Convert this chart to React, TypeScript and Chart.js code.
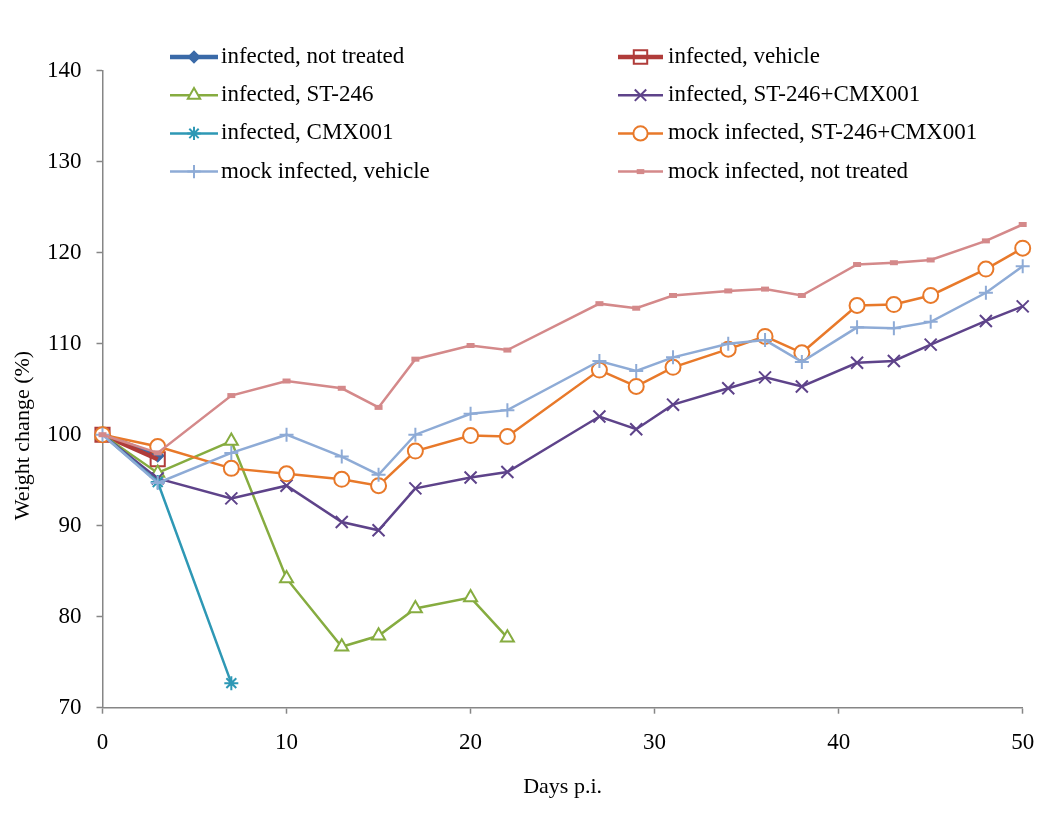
import React, { useEffect, useRef } from 'react';
import { Chart, registerables } from 'chart.js';
import { drawPoint } from 'chart.js/helpers';

Chart.register(...registerables);

// ---- data ----
const days = [0, 3, 7, 10, 13, 15, 17, 20, 22, 27, 29, 31, 34, 36, 38, 41, 43, 45, 48, 50];

const infectedNotTreated = [100, 97.7];
const infectedVehicle = [100, 97.3];
const infectedST246 = [100, 95.8, 99.3, 84.2, 76.7, 77.9, 80.9, 82.1, 77.7];
const infectedST246CMX001 = [100, 95.2, 93.0, 94.4, 90.4, 89.5, 94.1, 95.3, 95.9, 102.0, 100.6, 103.3, 105.1, 106.3, 105.3, 107.9, 108.1, 109.9, 112.5, 114.1];
const infectedCMX001 = [100, 94.8, 72.7];
const mockST246CMX001 = [100, 98.7, 96.3, 95.7, 95.1, 94.4, 98.2, 99.9, 99.8, 107.1, 105.3, 107.4, 109.4, 110.8, 109.0, 114.2, 114.3, 115.3, 118.2, 120.5];
const mockVehicle = [100, 94.7, 98.0, 100.0, 97.6, 95.6, 100.0, 102.3, 102.7, 108.1, 107.0, 108.5, 110.0, 110.4, 108.0, 111.8, 111.7, 112.4, 115.6, 118.5];
const mockNotTreated = [100, 98.0, 104.3, 105.9, 105.1, 103.0, 108.3, 109.8, 109.3, 114.4, 113.9, 115.3, 115.8, 116.0, 115.3, 118.7, 118.9, 119.2, 121.3, 123.1];

const seriesLabels = [
  'infected, not treated',
  'infected, vehicle',
  'infected, ST-246',
  'infected, ST-246+CMX001',
  'infected, CMX001',
  'mock infected, ST-246+CMX001',
  'mock infected, vehicle',
  'mock infected, not treated',
];
const seriesValues = [
  infectedNotTreated,
  infectedVehicle,
  infectedST246,
  infectedST246CMX001,
  infectedCMX001,
  mockST246CMX001,
  mockVehicle,
  mockNotTreated,
];

const xMin = 0;
const xMax = 50;
const xStep = 10;
const yMin = 70;
const yMax = 140;
const yStep = 10;
const xTitle = 'Days p.i.';
const yTitle = 'Weight change (%)';

// ---- styles ----
const FONT = "'Liberation Serif', 'Times New Roman', Times, serif";
const AXIS = '#868686';

const seriesStyles = [
  { color: '#3A6AA8', pointStyle: 'rectRot', radius: 6, fill: '#3A6AA8', lineWidth: 4.5, pbw: 1.5 },
  { color: '#B03C3A', pointStyle: 'rect', radius: 10, fill: 'rgba(255,255,255,0)', lineWidth: 4.5, pbw: 2 },
  { color: '#86AC40', pointStyle: 'triangle', radius: 7.5, fill: '#ffffff', lineWidth: 2.5, pbw: 2 },
  { color: '#5E438A', pointStyle: 'crossRot', radius: 8.5, fill: '#5E438A', lineWidth: 2.5, pbw: 2 },
  { color: '#2E98B5', pointStyle: 'star', radius: 7, fill: '#2E98B5', lineWidth: 2.5, pbw: 2 },
  { color: '#E8792A', pointStyle: 'circle', radius: 7.5, fill: '#ffffff', lineWidth: 2.5, pbw: 2 },
  { color: '#8EABD6', pointStyle: 'cross', radius: 7, fill: '#8EABD6', lineWidth: 2.5, pbw: 2 },
  { color: '#D4898A', pointStyle: 'line', radius: 4, fill: '#D4898A', lineWidth: 2.5, pbw: 5 },
];

const legendPlugin = {
  id: 'customLegend',
  afterDraw(chart: any) {
    const ctx = chart.ctx;
    ctx.save();
    chart.data.datasets.forEach((ds: any, i: number) => {
      const col = i % 2;
      const row = Math.floor(i / 2);
      const x0 = col === 0 ? 170 : 618;
      const x1 = col === 0 ? 218 : 663;
      const tx = col === 0 ? 221 : 668;
      const y = 57 + row * 38.2;
      ctx.lineCap = 'butt';
      ctx.strokeStyle = ds.borderColor;
      ctx.lineWidth = ds.borderWidth;
      ctx.beginPath();
      ctx.moveTo(x0, y);
      ctx.lineTo(x1, y);
      ctx.stroke();
      ctx.fillStyle = ds.pointBackgroundColor;
      ctx.strokeStyle = ds.pointBorderColor;
      ctx.lineWidth = ds.pointBorderWidth;
      drawPoint(
        ctx,
        { pointStyle: ds.pointStyle, radius: ds.pointRadius * 0.95, borderWidth: ds.pointBorderWidth, rotation: 0 } as any,
        (x0 + x1) / 2,
        y
      );
      ctx.fillStyle = '#000';
      ctx.font = `23px ${FONT}`;
      ctx.textBaseline = 'middle';
      ctx.textAlign = 'left';
      ctx.fillText(ds.label, tx, y);
    });
    ctx.restore();

    ctx.save();
    ctx.translate(23, 435.5);
    ctx.rotate(-Math.PI / 2);
    ctx.font = `22px ${FONT}`;
    ctx.fillStyle = '#000';
    ctx.textAlign = 'center';
    ctx.textBaseline = 'middle';
    ctx.fillText(yTitle, 0, 0);
    ctx.restore();
  },
};

export default function App() {
  const canvasRef = useRef<HTMLCanvasElement | null>(null);

  useEffect(() => {
    if (!canvasRef.current) return;
    const n = seriesValues.length;
    const datasets = seriesValues.map((vals, i) => {
      const s = seriesStyles[i];
      return {
        label: seriesLabels[i],
        data: vals.map((y, k) => ({ x: days[k], y })),
        borderColor: s.color,
        backgroundColor: s.color,
        borderWidth: s.lineWidth,
        pointStyle: s.pointStyle,
        pointRadius: s.radius,
        pointHoverRadius: s.radius,
        pointBackgroundColor: s.fill,
        pointBorderColor: s.color,
        pointBorderWidth: s.pbw,
        tension: 0,
        fill: false,
        clip: false,
        order: n - i,
      };
    });

    const chart = new Chart(canvasRef.current, {
      type: 'line',
      data: { datasets },
      options: {
        responsive: false,
        animation: false,
        devicePixelRatio: 1,
        layout: { padding: { top: 70.7, left: 0, right: 27.3, bottom: 0 } },
        plugins: {
          legend: { display: false },
          tooltip: { enabled: false },
        },
        scales: {
          x: {
            type: 'linear',
            min: xMin,
            max: xMax,
            ticks: { stepSize: xStep, color: '#000', font: { family: FONT, size: 23 }, padding: 15, maxRotation: 0 },
            grid: { display: true, drawOnChartArea: false, drawTicks: true, tickLength: 6, tickWidth: 1.5, tickColor: AXIS, color: AXIS },
            border: { display: true, color: AXIS, width: 1.5 },
            title: { display: true, text: xTitle, color: '#000', font: { family: FONT, size: 22 }, padding: { top: 0, bottom: 16 } },
            afterFit: (scale: any) => { scale.height = 108.3; },
          },
          y: {
            type: 'linear',
            min: yMin,
            max: yMax,
            ticks: { stepSize: yStep, color: '#000', font: { family: FONT, size: 23 }, padding: 15 },
            grid: { display: true, drawOnChartArea: false, drawTicks: true, tickLength: 6, tickWidth: 1.5, tickColor: AXIS, color: AXIS },
            border: { display: true, color: AXIS, width: 1.5 },
            afterFit: (scale: any) => { scale.width = 102.5; },
          },
        },
      },
      plugins: [legendPlugin],
    } as any);

    return () => chart.destroy();
  }, []);

  return (
    <div style={{ position: 'absolute', left: 0, top: 0, width: 1050, height: 816, background: '#fff' }}>
      <canvas ref={canvasRef} width={1050} height={816} style={{ width: 1050, height: 816, display: 'block' }} />
    </div>
  );
}
